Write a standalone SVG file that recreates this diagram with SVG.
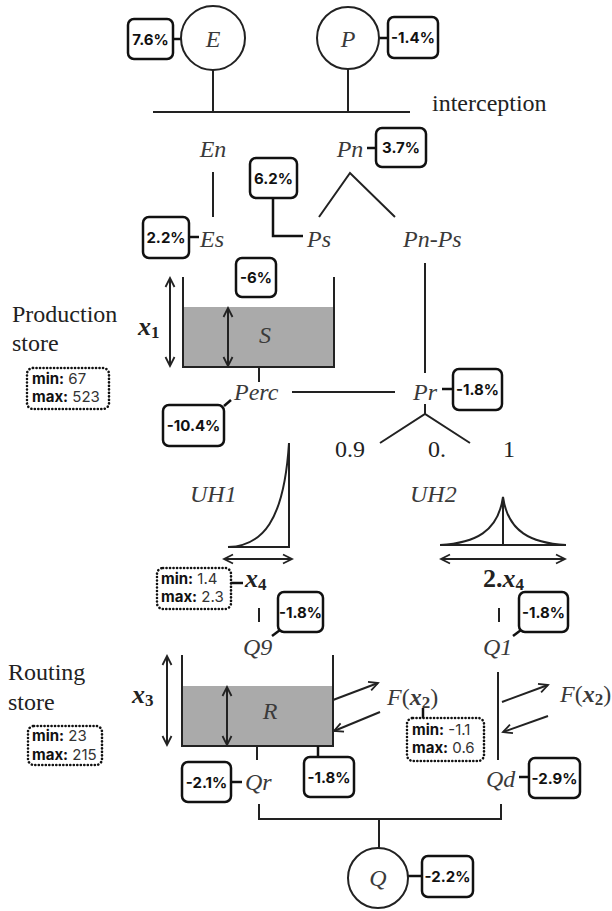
<svg xmlns="http://www.w3.org/2000/svg" width="612" height="911" viewBox="0 0 612 911">
<defs>
<style>
.ln{stroke:#222;stroke-width:2;fill:none}
.lk{stroke:#111;stroke-width:2.5;fill:none}
.pb{fill:#fff;stroke:#111;stroke-width:2.5}
.pt{font-weight:700;font-size:15px;text-anchor:middle;fill:#111}
.db{fill:#fff;stroke:#111;stroke-width:2.6;stroke-dasharray:0.1 3.4;stroke-linecap:round}
.mt{font-size:15px;fill:#333}
.b{font-weight:700;fill:#111}
.it{font-style:italic;font-size:24px;fill:#3a3a3a}
.rm{font-size:24px;fill:#222}
.bx{font-weight:700;font-size:26px;fill:#222}
.fill{fill:#aaaaaa}
.arr{marker-end:url(#ah)}
.dbl{marker-start:url(#ah);marker-end:url(#ah)}
</style>
<marker id="ah" viewBox="-1 -6 12 12" refX="9" refY="0" markerWidth="12" markerHeight="12" markerUnits="userSpaceOnUse" orient="auto-start-reverse">
<path d="M0,-4.5 L9,0 L0,4.5" fill="none" stroke="#222" stroke-width="1.8"/>
</marker>
</defs>
<rect width="612" height="911" fill="#fff"/>

<rect id="fill-S" class="fill" x="183" y="307" width="151" height="60"/>
<rect id="fill-R" class="fill" x="182" y="686" width="151" height="60"/>

<g id="connectors">
<line class="ln" x1="213" y1="70" x2="213" y2="112"/>
<line class="ln" x1="348" y1="69" x2="348" y2="112"/>
<line class="ln" x1="153" y1="112" x2="410" y2="112"/>
<line class="ln" x1="213" y1="172" x2="213" y2="217"/>
<polyline class="ln" points="319,217 350,173 395,217"/>
<line class="ln" x1="425" y1="263" x2="425" y2="373"/>
<path class="ln" d="M183,277 V367 H334 V277"/>
<line class="ln dbl" x1="170" y1="278" x2="170" y2="366"/>
<line class="ln dbl" x1="228" y1="308" x2="228" y2="366"/>
<line class="ln" x1="259" y1="367" x2="259" y2="382"/>
<line class="ln" x1="292" y1="392" x2="395" y2="392"/>
<line class="ln" x1="425" y1="404" x2="425" y2="414"/>
<polyline class="ln" points="380,443 425,414 470,443"/>
<path class="ln" d="M289,443 V547 H228"/>
<path class="ln" d="M228,547 C262,546 284,522 289,443"/>
<line class="ln dbl" x1="224" y1="559" x2="292" y2="559"/>
<line class="ln" x1="503" y1="497" x2="503" y2="545"/>
<line class="ln" x1="440" y1="545" x2="566" y2="545"/>
<path class="ln" d="M440,545 C475,543 498,532 503,497 C508,532 531,543 566,545"/>
<line class="ln dbl" x1="441" y1="559" x2="565" y2="559"/>
<line class="ln" x1="259" y1="608" x2="259" y2="622"/>
<line class="ln" x1="499" y1="608" x2="499" y2="622"/>
<path class="ln" d="M182,655 V746 H333 V655"/>
<line class="ln dbl" x1="167" y1="656" x2="167" y2="745"/>
<line class="ln dbl" x1="227" y1="687" x2="227" y2="745"/>
<line class="ln arr" x1="333" y1="700" x2="378" y2="683"/>
<line class="ln arr" x1="380" y1="712" x2="334" y2="731"/>
<line class="ln" x1="257" y1="746" x2="257" y2="760"/>
<line class="ln" x1="498" y1="672" x2="498" y2="760"/>
<line class="ln arr" x1="502" y1="702" x2="548" y2="685"/>
<line class="ln arr" x1="548" y1="716" x2="503" y2="732"/>
<path class="ln" d="M259,804 V819 H501 V804"/>
<line class="ln" x1="379" y1="819" x2="379" y2="848"/>
<line class="lk" x1="173" y1="39" x2="182" y2="39"/>
<line class="lk" x1="379" y1="38" x2="388" y2="38"/>
<line class="lk" x1="367" y1="148" x2="376" y2="148"/>
<path class="lk" d="M273,198 V236 H303"/>
<line class="lk" x1="189" y1="237" x2="199" y2="237"/>
<line class="lk" x1="442" y1="389" x2="453" y2="389"/>
<line class="lk" x1="224" y1="406" x2="231" y2="400"/>
<line class="lk" x1="231" y1="583" x2="243" y2="583"/>
<line class="lk" x1="280" y1="630" x2="272" y2="636"/>
<line class="lk" x1="521" y1="630" x2="513" y2="636"/>
<line class="lk" x1="231" y1="782" x2="242" y2="782"/>
<line class="lk" x1="318" y1="746" x2="318" y2="757"/>
<line class="lk" x1="423" y1="708" x2="423" y2="718"/>
<line class="lk" x1="519" y1="777" x2="529" y2="777"/>
<line class="lk" x1="408" y1="876" x2="422" y2="876"/>
</g>

<g font-family="Liberation Serif, Times New Roman, serif">
<g id="node-E"><circle class="ln" cx="213" cy="38" r="32" fill="#fff"/><text class="it" x="213" y="47" text-anchor="middle">E</text></g>
<g id="node-P"><circle class="ln" cx="348" cy="38" r="31" fill="#fff"/><text class="it" x="348" y="47" text-anchor="middle">P</text></g>
<g id="label-interception"><text class="rm" x="432" y="111">interception</text></g>
<g id="node-En"><text class="it" x="213" y="157" text-anchor="middle">En</text></g>
<g id="node-Pn"><text class="it" x="350" y="157" text-anchor="middle">Pn</text></g>
<g id="node-Es"><text class="it" x="200" y="247">Es</text></g>
<g id="node-Ps"><text class="it" x="307" y="247">Ps</text></g>
<g id="node-PnPs"><text class="it" x="403" y="247">Pn-Ps</text></g>
<g id="node-production-store">
<text class="rm" x="12" y="322">Production</text>
<text class="rm" x="12" y="351">store</text>
<text class="bx" x="138" y="335"><tspan font-style="italic">x</tspan><tspan font-size="17" dy="3">1</tspan></text>
<text class="it" x="265" y="343" text-anchor="middle">S</text>
</g>
<g id="node-Perc"><text class="it" x="234" y="400">Perc</text></g>
<g id="node-Pr"><text class="it" x="413" y="400">Pr</text></g>
<g id="split-labels">
<text class="rm" x="335" y="457">0.9</text>
<text class="rm" x="428" y="457">0.</text>
<text class="rm" x="503" y="457">1</text>
</g>
<g id="node-UH1"><text class="it" x="190" y="502">UH1</text></g>
<g id="node-UH2"><text class="it" x="410" y="502">UH2</text></g>
<g id="label-x4"><text class="bx" x="245" y="587"><tspan font-style="italic">x</tspan><tspan font-size="17" dy="3">4</tspan></text></g>
<g id="label-2x4"><text class="bx" x="483" y="587">2.<tspan font-style="italic">x</tspan><tspan font-size="17" dy="3">4</tspan></text></g>
<g id="node-Q9"><text class="it" x="243" y="655">Q9</text></g>
<g id="node-Q1"><text class="it" x="483" y="655">Q1</text></g>
<g id="node-routing-store">
<text class="rm" x="8" y="680">Routing</text>
<text class="rm" x="8" y="710">store</text>
<text class="bx" x="132" y="703"><tspan font-style="italic">x</tspan><tspan font-size="17" dy="3">3</tspan></text>
<text class="it" x="270" y="719" text-anchor="middle">R</text>
</g>
<g id="node-F1"><text class="it" x="387" y="705">F<tspan font-style="normal">(</tspan><tspan font-weight="700">x</tspan><tspan font-weight="700" font-style="normal" font-size="17" dy="3">2</tspan><tspan font-style="normal" dy="-3">)</tspan></text></g>
<g id="node-F2"><text class="it" x="560" y="702">F<tspan font-style="normal">(</tspan><tspan font-weight="700">x</tspan><tspan font-weight="700" font-style="normal" font-size="17" dy="3">2</tspan><tspan font-style="normal" dy="-3">)</tspan></text></g>
<g id="node-Qr"><text class="it" x="245" y="790">Qr</text></g>
<g id="node-Qd"><text class="it" x="486" y="787">Qd</text></g>
<g id="node-Q"><circle class="ln" cx="378" cy="878" r="30" fill="#fff"/><text class="it" x="378" y="886" text-anchor="middle">Q</text></g>
</g>

<g font-family="Inter, Open Sans, DejaVu Sans, sans-serif">
<g id="badge-E"><rect class="pb" x="128" y="19" width="45" height="40" rx="6"/><text class="pt" x="150.5" y="44.5">7.6%</text></g>
<g id="badge-P"><rect class="pb" x="388" y="17" width="50" height="41" rx="6"/><text class="pt" x="413" y="43">-1.4%</text></g>
<g id="badge-Pn"><rect class="pb" x="376" y="128" width="50" height="39" rx="6"/><text class="pt" x="401" y="153">3.7%</text></g>
<g id="badge-Ps"><rect class="pb" x="250" y="158" width="47" height="40" rx="6"/><text class="pt" x="273.5" y="183.5">6.2%</text></g>
<g id="badge-Es"><rect class="pb" x="143" y="217" width="46" height="41" rx="6"/><text class="pt" x="166" y="243">2.2%</text></g>
<g id="badge-S"><rect class="pb" x="236" y="258" width="40" height="39" rx="6"/><text class="pt" x="256" y="283">-6%</text></g>
<g id="badge-Pr"><rect class="pb" x="453" y="369" width="49" height="41" rx="6"/><text class="pt" x="477.5" y="395">-1.8%</text></g>
<g id="badge-Perc"><rect class="pb" x="163" y="405" width="61" height="41" rx="6"/><text class="pt" x="193.5" y="431">-10.4%</text></g>
<g id="badge-Q9"><rect class="pb" x="278" y="592" width="45" height="40" rx="6"/><text class="pt" x="300.5" y="617.5">-1.8%</text></g>
<g id="badge-Q1"><rect class="pb" x="519" y="592" width="49" height="40" rx="6"/><text class="pt" x="543.5" y="617.5">-1.8%</text></g>
<g id="badge-Qr"><rect class="pb" x="182" y="762" width="49" height="40" rx="6"/><text class="pt" x="206.5" y="787.5">-2.1%</text></g>
<g id="badge-R"><rect class="pb" x="304" y="757" width="50" height="40" rx="6"/><text class="pt" x="329" y="782.5">-1.8%</text></g>
<g id="badge-Qd"><rect class="pb" x="529" y="758" width="51" height="40" rx="6"/><text class="pt" x="554.5" y="783.5">-2.9%</text></g>
<g id="badge-Q"><rect class="pb" x="422" y="856" width="51" height="41" rx="6"/><text class="pt" x="447.5" y="882">-2.2%</text></g>

<g id="range-x1"><rect class="db" x="27" y="368" width="82" height="41" rx="6"/><text class="mt" x="32" y="383.5"><tspan class="b">min:</tspan> 67</text><text class="mt" x="32" y="402"><tspan class="b">max:</tspan> 523</text></g>
<g id="range-x4"><rect class="db" x="157" y="568" width="74" height="41" rx="6"/><text class="mt" x="161" y="583.5"><tspan class="b">min:</tspan> 1.4</text><text class="mt" x="161" y="602"><tspan class="b">max:</tspan> 2.3</text></g>
<g id="range-x3"><rect class="db" x="28" y="726" width="74" height="39" rx="6"/><text class="mt" x="32" y="741"><tspan class="b">min:</tspan> 23</text><text class="mt" x="32" y="759.5"><tspan class="b">max:</tspan> 215</text></g>
<g id="range-x2"><rect class="db" x="407" y="718" width="77" height="43" rx="6"/><text class="mt" x="412" y="734.5"><tspan class="b">min:</tspan> -1.1</text><text class="mt" x="412" y="753"><tspan class="b">max:</tspan> 0.6</text></g>
</g>
</svg>
